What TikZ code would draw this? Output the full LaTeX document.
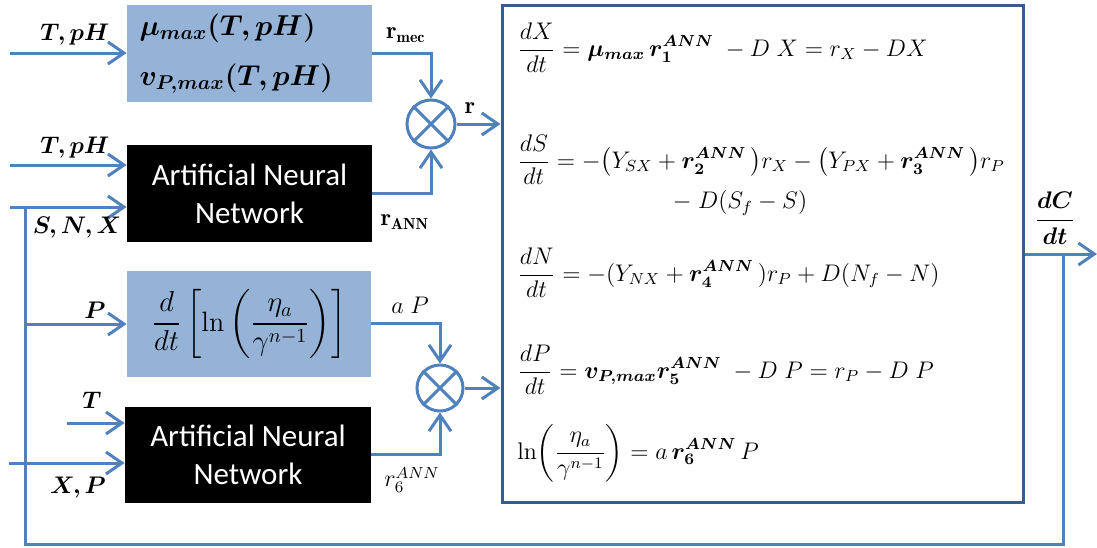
\documentclass[tikz,border=0pt]{standalone}
\usepackage{amsmath}
\usepackage{bm}
\usepackage{fontspec}
\newfontfamily\carlito{Carlito}
\usetikzlibrary{arrows.meta, positioning, calc}
\definecolor{lineblue}{RGB}{79,129,189}
\definecolor{boxblue}{RGB}{149,179,215}
\definecolor{frameblue}{RGB}{56,93,138}

\begin{document}
\begin{tikzpicture}[
    x=0.5pt, y=-0.5pt,
    funcbox/.style={rectangle, fill=boxblue, inner sep=0pt, minimum width=122.5pt, minimum height=48.5pt},
    annbox/.style={rectangle, fill=black, text=white, font=\carlito\fontsize{15.5}{19}\selectfont, align=center, inner sep=0pt, minimum width=122.5pt, minimum height=48.5pt},
    mult/.style={circle, draw=lineblue, line width=1.5pt, minimum size=24pt, inner sep=0pt},
    arrow/.style={-{Straight Barb[length=8pt, width=11pt]}, line width=1.5pt, color=lineblue},
    wire/.style={line width=1.5pt, color=lineblue},
    lbl/.style={font=\fontsize{12}{14}\selectfont, inner sep=0pt},
    eqn/.style={anchor=west, font=\fontsize{12}{14}\selectfont, inner sep=0pt}
]
\useasboundingbox (0,0) rectangle (1097,547);

% blocks
\node[funcbox, text width=110pt, align=left, font=\fontsize{14}{25}\selectfont] (mech) at (249.5,53.5)
    {$\bm{\mu_{max}(T,pH)}$\\$\bm{v_{P,max}(T,pH)}$};
\node[annbox] (ann1) at (249.5,193.5) {Artificial Neural\\Network};
\node[funcbox, minimum width=122pt, minimum height=53pt, font=\fontsize{14}{16}\selectfont] (visc) at (249,324)
    {$\displaystyle\frac{d}{dt}\left[\ln\left(\frac{\eta_a}{\gamma^{n-1}}\right)\right]$};
\node[annbox, minimum width=123pt, minimum height=48pt] (ann2) at (248,455) {Artificial Neural\\Network};
\node[mult] (mul1) at (431,124) {};
\node[mult, minimum size=23pt] (mul2) at (440,388) {};
\draw[wire] (mul1.north west) -- (mul1.south east) (mul1.north east) -- (mul1.south west);
\draw[wire] (mul2.north west) -- (mul2.south east) (mul2.north east) -- (mul2.south west);
\node[draw=frameblue, line width=1.5pt, minimum width=260.5pt, minimum height=248.5pt] (model) at (762.5,253.5) {};

% equations
\node[eqn] (eqx) at (517,48) {$\displaystyle\frac{dX}{dt}=\bm{\mu_{max}}\,\bm{r_1^{ANN}}\;-D\;X=r_X-DX$};
\node[eqn] (eqs) at (517,160) {$\displaystyle\frac{dS}{dt}=-\big(Y_{SX}+\bm{r_2^{ANN}}\,\big)r_X-\big(Y_{PX}+\bm{r_3^{ANN}}\,\big)r_P$};
\node[eqn, anchor=center] (eqs2) at (740,203) {$-\;D(S_f-S)$};
\node[eqn] (eqn) at (517,273) {$\displaystyle\frac{dN}{dt}=-(Y_{NX}+\bm{r_4^{ANN}}\,)r_P+D(N_f-N)$};
\node[eqn] (eqp) at (517,370) {$\displaystyle\frac{dP}{dt}=\bm{v_{P,max}}\bm{r_5^{ANN}}\;-D\;P=r_P-D\;P$};
\node[eqn] (eqv) at (517,453) {$\displaystyle\ln\!\left(\frac{\eta_a}{\gamma^{n-1}}\right)=a\,\bm{r_6^{ANN}}\,P$};

% inputs
\coordinate (in1) at (10,53);
\coordinate (in2) at (10,165);
\coordinate (in3) at (10,207);
\coordinate (in5) at (67,423);
\coordinate (in6) at (9,463);
\coordinate (fbtop) at (1063,254);
\coordinate (fbbot) at (25,544);
\coordinate (outend) at (1097,254);

\draw[arrow] (in1) -- (mech.west |- in1);
\draw[arrow] (in2) -- (ann1.west |- in2);
\draw[arrow] (in3) -- (ann1.west |- in3);
\draw[arrow] (fbbot |- visc.west) -- (visc.west);
\draw[arrow] (in5) -- (ann2.west |- in5);
\draw[arrow] (in6) -- (ann2.west |- in6);

\node[lbl] (lin1) at (75,35) {$\bm{T,pH}$};
\node[lbl] (lin2) at (75,148) {$\bm{T,pH}$};
\node[lbl] (lin3) at (77,228) {$\bm{S,N,X}$};
\node[lbl] (lin4) at (95,310) {$\bm{P}$};
\node[lbl] (lin5) at (92,400) {$\bm{T}$};
\node[lbl] (lin6) at (78,488) {$\bm{X,P}$};

% block outputs
\draw[arrow] (mech.east |- 0,53) -| (mul1.north);
\draw[arrow] (ann1.east |- 0,193) -| (mul1.south);
\draw[arrow] (visc.east |- 0,323) -| (mul2.north);
\draw[arrow] (ann2.east |- 0,454) -| (mul2.south);
\draw[arrow] (mul1.east) -- (model.west |- mul1.east);
\draw[arrow] (mul2.east) -- (model.west |- mul2.east);

\node[lbl] (lmec) at (406,35) {$\mathbf{r_{mec}}$};
\node[lbl] (lann) at (405,222) {$\mathbf{r_{ANN}}$};
\node[lbl] (lr) at (470,108) {$\mathbf{r}$};
\node[lbl] (lap) at (410,305) {$a\;P$};
\node[lbl] (lr6) at (412,480) {$r_6^{ANN}$};

% model output and feedback
\draw[arrow] (model.east |- fbtop) -- (outend);
\node[lbl] (ldc) at (1055,218) {$\bm{\dfrac{dC}{dt}}$};
\draw[wire] (fbtop) |- (fbbot) -- (fbbot |- in3);
\end{tikzpicture}
\end{document}
